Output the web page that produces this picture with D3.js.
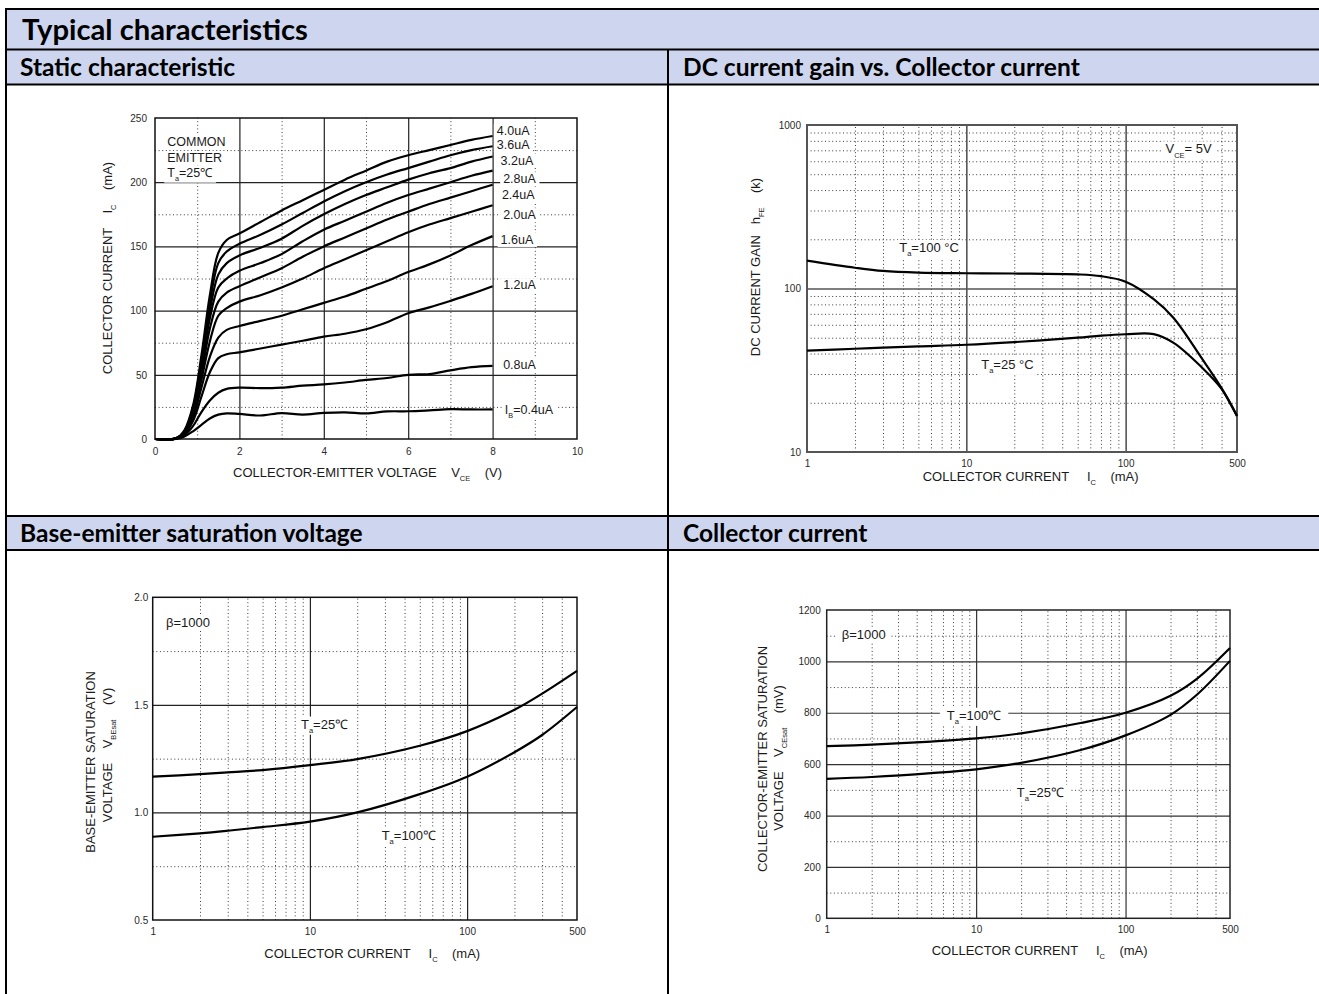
<!DOCTYPE html>
<html>
<head>
<meta charset="utf-8">
<script src="https://cdn.jsdelivr.net/npm/d3@7"></script>
<style>
  body { margin: 0; background: #fff; }
  svg text { font-family: "Liberation Sans", Arial, sans-serif; fill: #1a1a1a; white-space: pre; }
  svg text.hdr { font-family: Lato, "Open Sans", sans-serif; font-weight: 700; fill: #000; }
</style>
</head>
<body>
<svg id="page" width="1319" height="994"></svg>
<script>
// ---- static characteristic: IC (mA) vs VCE (V) for each base current ----
const vceSteps = [0, 0.5, 0.7, 0.9, 1.1, 1.3, 1.5, 1.7, 2, 2.5, 3, 3.5, 4, 4.5, 5, 5.5, 6, 6.5, 7, 7.5, 8]
const ibNames = ['I_{B}=0.4uA', '0.8uA', '1.2uA', '1.6uA', '2.0uA', '2.4uA', '2.8uA', '3.2uA', '3.6uA', '4.0uA']
const ic_0_4 = [0, 0, 2, 6, 11, 16, 19, 20, 19.5, 18.3, 20.2, 19, 20.3, 20.8, 20, 21.5, 21.6, 22.3, 23.2, 23, 23]
const ic_0_8 = [0, 0.3, 3, 10, 21, 30, 36, 39, 40, 39.6, 40, 41.5, 42.5, 44, 46, 47.5, 50, 50.6, 53.5, 56, 57]
const ic_1_2 = [0, 0.4, 4, 14, 33, 52, 63, 66, 67.5, 70.5, 73.5, 76.5, 79.7, 82, 85.5, 91, 98, 102.5, 107.6, 113, 119]
const ic_1_6 = [0, 0.4, 5, 17, 40, 64, 79, 85, 88, 92, 96, 101, 106, 111, 117, 123, 130, 136, 143, 151, 158]
const ic_2_0 = [0, 0.5, 5, 19, 46, 76, 96, 102, 107, 112, 118, 125, 133, 140, 147, 154, 161, 167, 172, 177, 182]
const ic_2_4 = [0, 0.5, 5, 21, 50, 86, 107, 114, 119, 126, 133, 142, 150, 157, 164, 171, 177, 183, 188, 193, 198]
const ic_2_8 = [0, 0.5, 6, 22, 54, 94, 118, 125, 131, 137, 144, 154, 163, 170, 177, 184, 190, 195, 200, 205, 209]
const ic_3_2 = [0, 0.5, 6, 23, 58, 100, 128, 137, 143, 149, 156, 166, 175, 183, 190, 196, 202, 207, 211, 216, 220]
const ic_3_6 = [0, 0.5, 6, 24, 61, 106, 137, 146, 152, 159, 167, 176, 185, 193, 200, 206, 211, 216, 221, 225, 228]
const ic_4_0 = [0, 0.5, 7, 26, 65, 112, 145, 155, 160, 169, 178, 186, 194, 202, 209, 216, 221, 225, 229, 233, 236]
const staticSeries = [ic_0_4, ic_0_8, ic_1_2, ic_1_6, ic_2_0, ic_2_4, ic_2_8, ic_3_2, ic_3_6, ic_4_0]

// ---- DC current gain hFE vs IC ----
const gainIc = [1, 2, 3, 5, 10, 20, 50, 70, 100, 150, 200, 300, 400, 500]
const gain100 = [148, 134, 128, 125, 124, 123.5, 122, 119, 110, 86, 66, 37.5, 24.6, 16.6]
const gain25 = [41.7, 42.8, 43.5, 44.3, 45.3, 47, 50, 51.5, 52.5, 52.6, 46.5, 33, 24.3, 16.6]

// ---- VBE(sat) vs IC ----
const vbeIc = [1, 2, 3, 5, 10, 20, 50, 100, 200, 300, 500]
const vbe25 = [1.166, 1.178, 1.186, 1.197, 1.22, 1.248, 1.31, 1.378, 1.477, 1.552, 1.658]
const vbe100 = [0.887, 0.903, 0.915, 0.932, 0.957, 1.0, 1.085, 1.166, 1.28, 1.36, 1.49]

// ---- VCE(sat) vs IC ----
const vceIc = [1, 2, 5, 10, 20, 50, 100, 200, 300, 500]
const vce100 = [670, 676, 688, 700, 720, 760, 800, 866, 932, 1052]
const vce25 = [543, 550, 565, 580, 605, 655, 712, 792, 870, 1002]

// tick / grid values
const logLabels = [1, 10, 100, 500]
const logMajor = [10, 100]
const logMinor = [2, 3, 4, 5, 6, 7, 8, 9, 20, 30, 40, 50, 60, 70, 80, 90, 200, 300, 400]

const svg = d3.select('#page')
const HDR = '#cdd6ee'

// ---------- table / headers ----------
const rowY = [9, 49.5, 84.5, 516, 550]
const split = 668
svg.append('rect').attr('x', 6).attr('y', 9).attr('width', 1320).attr('height', 40.5).attr('fill', HDR)
svg.append('rect').attr('x', 6).attr('y', 49.5).attr('width', 1320).attr('height', 35).attr('fill', HDR)
svg.append('rect').attr('x', 6).attr('y', 516).attr('width', 1320).attr('height', 34).attr('fill', HDR)
rowY.forEach(y => svg.append('line').attr('x1', 5).attr('x2', 1320).attr('y1', y).attr('y2', y)
  .attr('stroke', '#000').attr('stroke-width', 2))
svg.append('line').attr('x1', 6).attr('x2', 6).attr('y1', 8).attr('y2', 994).attr('stroke', '#000').attr('stroke-width', 2)
svg.append('line').attr('x1', split).attr('x2', split).attr('y1', 49.5).attr('y2', 994).attr('stroke', '#000').attr('stroke-width', 2)

function fitText(sel, target) {
  const w = sel.node().getComputedTextLength()
  const fs = +sel.attr('font-size')
  sel.attr('font-size', fs * target / w)
}
const title = svg.append('text').attr('class', 'hdr').attr('x', 22).attr('y', 40).attr('font-size', 28)
  .text('Typical characteristics')
fitText(title, 286)

const subheads = [
  { t: 'Static characteristic', x: 20, y: 76, w: 215 },
  { t: 'DC current gain vs. Collector current', x: 683, y: 76, w: 397 },
  { t: 'Base-emitter saturation voltage', x: 20, y: 542, w: 348 },
  { t: 'Collector current', x: 683, y: 542, w: 185 }
]
// one font size for all sub headers, from the longest one
const probe = svg.append('text').attr('class', 'hdr').attr('font-size', 22).text(subheads[1].t)
const subSize = 22 * subheads[1].w / probe.node().getComputedTextLength()
probe.remove()
subheads.forEach(s => svg.append('text').attr('class', 'hdr').attr('x', s.x).attr('y', s.y)
  .attr('font-size', subSize).text(s.t))

// ---------- helpers ----------
// "T_{a}=25" -> T with subscript a
function rich(t, str) {
  const fs = +t.attr('font-size')
  let down = 0
  str.split(/(_\{[^}]*\})/).filter(s => s).forEach(p => {
    if (p.startsWith('_{')) {
      down = fs * 0.32
      t.append('tspan').attr('font-size', fs * 0.58).attr('dy', down).text(p.slice(2, -1))
    } else {
      const s = t.append('tspan').text(p)
      if (down) { s.attr('dy', -down); down = 0 }
    }
  })
  return t
}

const line = (x, y) => d3.line().x(d => x(d[0])).y(d => y(d[1])).curve(d3.curveCatmullRom.alpha(0.5))

function chart(c) {
  const g = svg.append('g')
  const [x0, x1] = c.x.range()
  const [y0, y1] = c.y.range()
  const w = x1 - x0, h = y0 - y1

  const grid = (vals, dir, dotted) => {
    const ax = dir === 'x'
      ? d3.axisBottom(c.x).tickValues(vals).tickSize(-h).tickFormat('')
      : d3.axisLeft(c.y).tickValues(vals).tickSize(-w).tickFormat('')
    const gg = g.append('g')
      .attr('transform', dir === 'x' ? `translate(0,${y0})` : `translate(${x0},0)`)
      .call(ax)
    gg.select('.domain').remove()
    gg.selectAll('line')
      .attr('stroke', dotted ? '#3a3a3a' : c.majorColor)
      .attr('stroke-width', dotted ? 1 : c.majorWidth)
      .attr('stroke-dasharray', dotted ? '1 2.6' : null)
  }
  grid(c.xMinor, 'x', true)
  grid(c.yMinor, 'y', true)
  grid(c.xMajor, 'x', false)
  grid(c.yMajor, 'y', false)

  // tick labels
  const xl = g.append('g').attr('transform', `translate(0,${y0})`)
    .call(d3.axisBottom(c.x).tickValues(c.xLabels).tickSize(0).tickPadding(c.xPad).tickFormat(c.xFmt))
  xl.select('.domain').remove()
  const yl = g.append('g').attr('transform', `translate(${x0},0)`)
    .call(d3.axisLeft(c.y).tickValues(c.yLabels).tickSize(0).tickPadding(c.yPad).tickFormat(c.yFmt))
  yl.select('.domain').remove()
  g.selectAll('.tick text').attr('font-size', 10).style('fill', '#2a2a2a')

  // annotations with white boxes
  const notes = g.append('g')
  c.notes.forEach(n => {
    const ng = notes.append('g')
    const r = ng.append('rect').attr('fill', '#fff')
    const t = ng.append('text').attr('x', c.x(n.x)).attr('y', c.y(n.y)).attr('font-size', n.size || 13)
    rich(t, n.text)
    const b = t.node().getBBox()
    const p = n.pad == null ? 3 : n.pad
    r.attr('x', b.x - p).attr('y', b.y).attr('width', b.width + 2 * p).attr('height', b.height)
  })

  // frame
  g.append('rect').attr('x', x0).attr('y', y1).attr('width', w).attr('height', h)
    .attr('fill', 'none').attr('stroke', c.frameColor).attr('stroke-width', c.frameWidth)

  // curves
  const ln = line(c.x, c.y)
  c.series.forEach(s => {
    g.append('path').datum(c.xs.map((v, i) => [v, s[i]]))
      .attr('d', ln).attr('fill', 'none').attr('stroke', '#000').attr('stroke-width', 2.2)
      .attr('stroke-linejoin', 'round')
  })

  // axis titles
  const xt = g.append('text').attr('x', c.xTitle.x).attr('y', c.xTitle.y).attr('font-size', 13)
    .attr('xml:space', 'preserve')
  rich(xt, c.xTitle.text)
  c.yTitles.forEach(yt => {
    const t = g.append('text').attr('transform', `translate(${yt.x},${yt.y}) rotate(-90)`)
      .attr('text-anchor', 'middle').attr('font-size', 13).attr('xml:space', 'preserve')
    rich(t, yt.text)
  })
}

// ---------- 1: static characteristic ----------
const x1s = d3.scaleLinear([0, 10], [155, 577])
const y1s = d3.scaleLinear([0, 250], [439, 118])
const ibLabelPos = [[8.29, 19.5], [8.25, 54.3], [8.25, 116.6], [8.19, 151.9], [8.25, 171.1],
  [8.22, 186.9], [8.25, 199.1], [8.19, 213.4], [8.1, 225.6], [8.1, 236.8]]
chart({
  x: x1s, y: y1s, xs: vceSteps, series: staticSeries,
  xMinor: [1, 3, 5, 7, 9], xMajor: [2, 4, 6, 8],
  yMinor: [25, 75, 125, 175, 225], yMajor: [50, 100, 150, 200],
  xLabels: [0, 2, 4, 6, 8, 10], yLabels: [0, 50, 100, 150, 200, 250],
  xFmt: d3.format('d'), yFmt: d3.format('d'), xPad: 9, yPad: 8,
  majorColor: '#222', majorWidth: 1.2, frameColor: '#111', frameWidth: 1.5,
  notes: [
    { text: 'COMMON', x: 0.29, y: 228.2, size: 12.5 },
    { text: 'EMITTER', x: 0.29, y: 215.7, size: 12.5 },
    { text: 'T_{a}=25℃', x: 0.29, y: 204.3, size: 12.5 }
  ].concat(ibNames.map((t, i) => ({ text: t, x: ibLabelPos[i][0], y: ibLabelPos[i][1], size: 12.5 }))),
  xTitle: { text: 'COLLECTOR-EMITTER VOLTAGE    V_{CE}    (V)', x: 233, y: 477 },
  yTitles: [{ text: 'COLLECTOR CURRENT    I_{C}    (mA)', x: 112, y: 268 }]
})

// ---------- 2: DC current gain ----------
chart({
  x: d3.scaleLog([1, 500], [807, 1237]), y: d3.scaleLog([10, 1000], [452, 125]),
  xs: gainIc, series: [gain100, gain25],
  xMinor: logMinor, xMajor: logMajor,
  yMinor: [20, 30, 40, 50, 60, 70, 80, 90, 200, 300, 400, 500, 600, 700, 800, 900], yMajor: [100],
  xLabels: logLabels, yLabels: [10, 100, 1000],
  xFmt: d3.format('d'), yFmt: d3.format('d'), xPad: 8, yPad: 6,
  majorColor: '#555', majorWidth: 1.6, frameColor: '#555', frameWidth: 2,
  notes: [
    { text: 'T_{a}=100 °C', x: 3.79, y: 167 },
    { text: 'T_{a}=25 °C', x: 12.4, y: 32.3 },
    { text: 'V_{CE}= 5V', x: 177.8, y: 670 }
  ],
  xTitle: { text: 'COLLECTOR CURRENT     I_{C}    (mA)', x: 922.7, y: 481 },
  yTitles: [{ text: 'DC CURRENT GAIN   h_{FE}    (k)', x: 760, y: 267 }]
})

// ---------- 3: VBE(sat) ----------
chart({
  x: d3.scaleLog([1, 500], [152.7, 577]), y: d3.scaleLinear([0.5, 2.0], [920, 597.3]),
  xs: vbeIc, series: [vbe25, vbe100],
  xMinor: logMinor, xMajor: logMajor,
  yMinor: [0.75, 1.25, 1.75], yMajor: [1.0, 1.5],
  xLabels: logLabels, yLabels: [0.5, 1.0, 1.5, 2.0],
  xFmt: d3.format('d'), yFmt: d3.format('.1f'), xPad: 7.5, yPad: 4.5,
  majorColor: '#222', majorWidth: 1.2, frameColor: '#111', frameWidth: 1.5,
  notes: [
    { text: 'β=1000', x: 1.215, y: 1.862, pad: 0 },
    { text: 'T_{a}=25℃', x: 8.77, y: 1.39 },
    { text: 'T_{a}=100℃', x: 28.6, y: 0.872 }
  ],
  xTitle: { text: 'COLLECTOR CURRENT     I_{C}    (mA)', x: 264.3, y: 958 },
  yTitles: [
    { text: 'BASE-EMITTER SATURATION', x: 95, y: 762 },
    { text: 'VOLTAGE    V_{BEsat}    (V)', x: 112, y: 755 }
  ]
})

// ---------- 4: VCE(sat) ----------
chart({
  x: d3.scaleLog([1, 500], [826.7, 1230]), y: d3.scaleLinear([0, 1200], [918.3, 610]),
  xs: vceIc, series: [vce100, vce25],
  xMinor: logMinor, xMajor: logMajor,
  yMinor: [100, 300, 500, 700, 900, 1100], yMajor: [200, 400, 600, 800, 1000],
  xLabels: logLabels, yLabels: [0, 200, 400, 600, 800, 1000, 1200],
  xFmt: d3.format('d'), yFmt: d3.format('d'), xPad: 8, yPad: 6,
  majorColor: '#333', majorWidth: 1.2, frameColor: '#222', frameWidth: 1.5,
  notes: [
    { text: 'β=1000', x: 1.26, y: 1087, pad: 5 },
    { text: 'T_{a}=100℃', x: 6.37, y: 772.8, pad: 7 },
    { text: 'T_{a}=25℃', x: 18.7, y: 474, pad: 6 }
  ],
  xTitle: { text: 'COLLECTOR CURRENT     I_{C}    (mA)', x: 931.7, y: 955 },
  yTitles: [
    { text: 'COLLECTOR-EMITTER SATURATION', x: 767, y: 759 },
    { text: 'VOLTAGE    V_{CEsat}    (mV)', x: 783, y: 758 }
  ]
})
</script>
</body>
</html>
